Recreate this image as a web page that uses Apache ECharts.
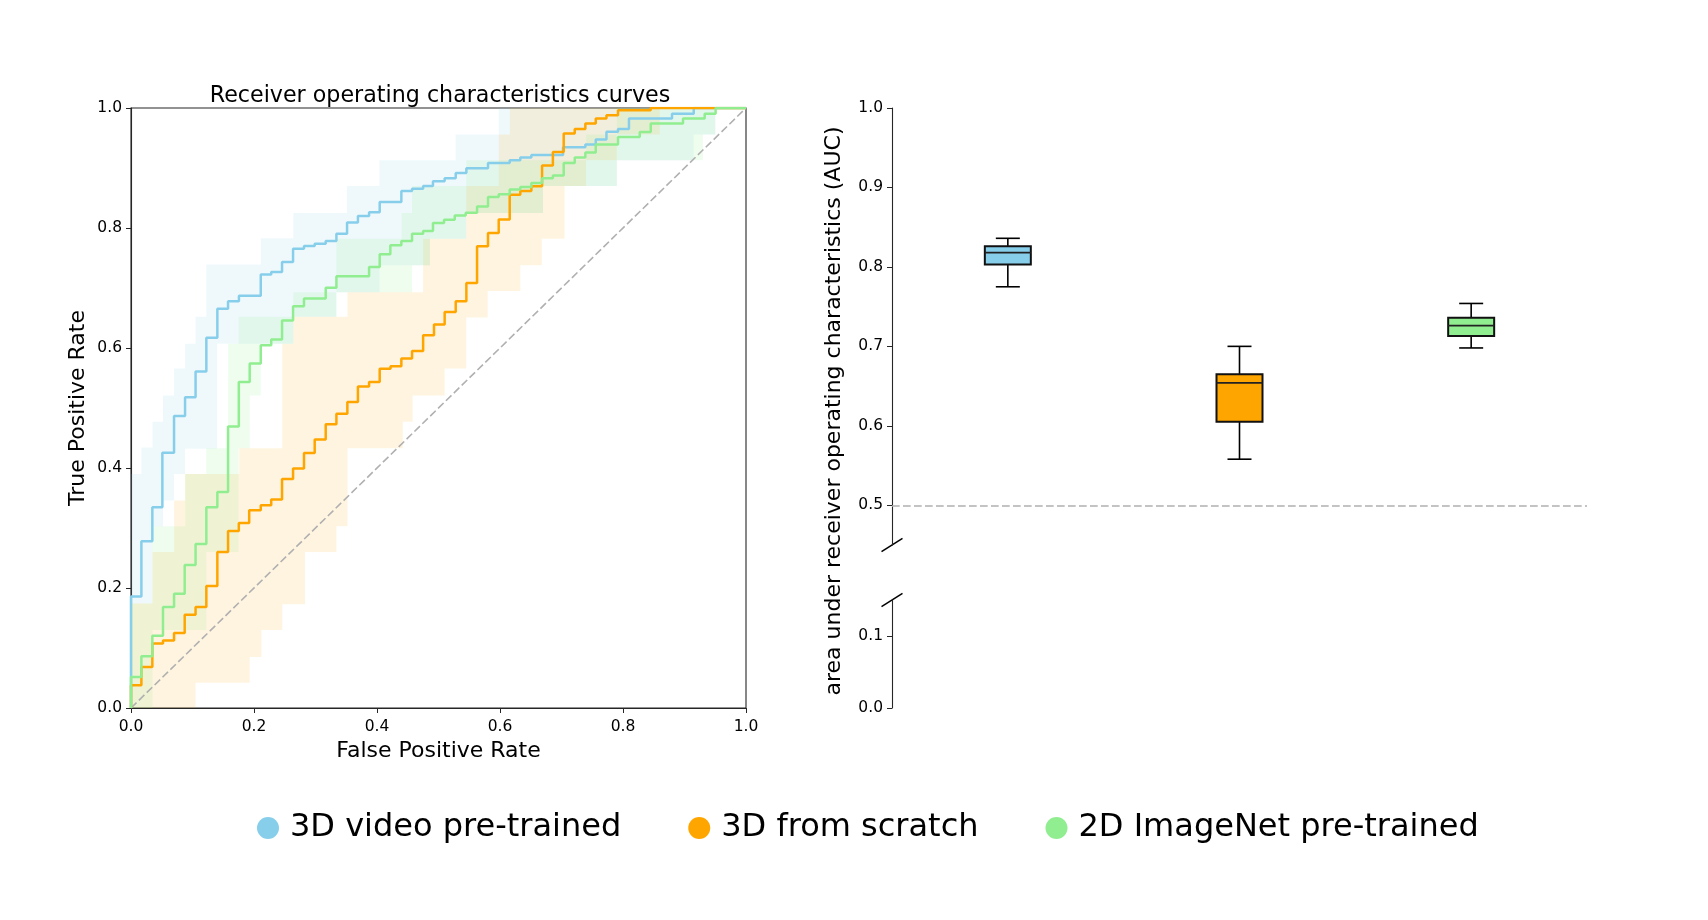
<!DOCTYPE html>
<html><head><meta charset="utf-8">
<script src="https://cdn.jsdelivr.net/npm/echarts@6/dist/echarts.min.js"></script>
<style>html,body{margin:0;padding:0;background:#fff}#c{width:1708px;height:920px}</style>
</head><body><div id="c"></div>
<script>
// ---------- data ----------
const seriesNames = ['3D video pre-trained', '3D from scratch', '2D ImageNet pre-trained'];
const seriesColors = ['#87CEEB', '#FFA500', '#90EE90'];
const bandColors = ['rgba(135,206,235,0.13)', 'rgba(255,165,0,0.12)', 'rgba(144,238,144,0.14)'];

// ROC step curves (fpr where the step starts, tpr held from there)
const blueFpr = [0,0,0.0169,0.0347,0.051,0.070,0.0879,0.105,0.1225,0.1404,0.1578,0.1755,0.211,0.228,0.2456,0.2635,0.2813,0.2987,0.3166,0.334,0.3513,0.369,0.3871,0.4044,0.4396,0.457,0.475,0.491,0.510,0.528,0.5453,0.5805,0.6158,0.633,0.651,0.7025,0.7388,0.7557,0.7731,0.7919,0.8097,0.8797,0.915,1.0];
const blueTpr = [0,0.186,0.278,0.3345,0.4256,0.4867,0.518,0.561,0.617,0.6656,0.678,0.687,0.7223,0.7267,0.7434,0.7656,0.770,0.7739,0.7783,0.7906,0.809,0.8202,0.8262,0.8434,0.8617,0.8656,0.870,0.878,0.883,0.8917,0.8995,0.9084,0.9128,0.9173,0.9217,0.9345,0.939,0.9473,0.9606,0.965,0.9823,0.9906,1.0,1.0];

const orangeFpr = [0,0,0.0169,0.0347,0.052,0.070,0.0873,0.105,0.1225,0.1404,0.1578,0.1753,0.1922,0.211,0.228,0.2456,0.2635,0.2813,0.2987,0.3166,0.334,0.3518,0.369,0.3871,0.4044,0.422,0.4396,0.457,0.475,0.4927,0.510,0.528,0.5453,0.5627,0.5805,0.5979,0.6158,0.633,0.651,0.6684,0.686,0.7036,0.7215,0.7388,0.7557,0.7731,0.7919,0.845,1.0];
const orangeTpr = [0,0.0378,0.0684,0.1073,0.1123,0.125,0.1556,0.1684,0.2034,0.26,0.295,0.3084,0.3295,0.3378,0.3473,0.3817,0.399,0.425,0.4473,0.4728,0.4906,0.510,0.536,0.5434,0.5656,0.5695,0.5823,0.595,0.6212,0.639,0.66,0.6778,0.7084,0.7695,0.7917,0.814,0.8556,0.8617,0.8695,0.904,0.9267,0.9573,0.965,0.974,0.9823,0.9878,0.9962,1.0,1.0];

const greenFpr = [0,0,0.0169,0.0347,0.052,0.070,0.0873,0.105,0.1225,0.1404,0.1578,0.1753,0.193,0.211,0.228,0.2456,0.2635,0.2813,0.3166,0.334,0.3871,0.4044,0.4217,0.4396,0.457,0.475,0.491,0.509,0.5264,0.5442,0.5627,0.5805,0.5979,0.6158,0.633,0.651,0.6684,0.686,0.7036,0.7215,0.7388,0.7557,0.7919,0.8272,0.8451,0.8976,0.9328,0.9506,1.0];
const greenTpr = [0,0.0517,0.0862,0.1206,0.1684,0.1906,0.2384,0.2734,0.3345,0.36,0.469,0.5434,0.574,0.6045,0.614,0.646,0.6695,0.6823,0.7006,0.7195,0.735,0.7562,0.7712,0.7783,0.7906,0.795,0.8084,0.8139,0.821,0.8256,0.836,0.8517,0.8562,0.864,0.8684,0.875,0.8828,0.8873,0.9084,0.9173,0.926,0.939,0.9517,0.96,0.974,0.9823,0.9906,1.0,1.0];

// Confidence bands (segment start fpr, lower / upper tpr on that segment)
const blueBandX  = [0,0.017,0.035,0.052,0.070,0.088,0.105,0.1225,0.140,0.158,0.211,0.264,0.334,0.351,0.404,0.486,0.528,0.545,0.598,0.67,0.79,0.915,0.95,1.0];
const blueBandLo = [0.174,0.174,0.303,0.346,0.39,0.432,0.432,0.432,0.607,0.607,0.607,0.652,0.693,0.693,0.738,0.782,0.782,0.825,0.825,0.87,0.913,0.956,1,1];
const blueBandHi = [0.39,0.434,0.477,0.521,0.566,0.607,0.652,0.739,0.739,0.739,0.783,0.825,0.825,0.87,0.913,0.913,0.956,0.956,1,1,1,1,1,1];

const orangeBandX  = [0,0.035,0.07,0.088,0.105,0.176,0.193,0.212,0.246,0.264,0.283,0.334,0.352,0.442,0.458,0.475,0.51,0.545,0.58,0.598,0.616,0.633,0.668,0.705,0.74,0.79,0.86,1.0];
const orangeBandLo = [0,0,0,0,0.042,0.042,0.085,0.13,0.173,0.173,0.26,0.303,0.433,0.477,0.521,0.521,0.566,0.651,0.695,0.695,0.695,0.738,0.782,0.87,0.913,0.956,1,1];
const orangeBandHi = [0.174,0.26,0.346,0.39,0.39,0.433,0.433,0.433,0.607,0.652,0.652,0.652,0.693,0.693,0.693,0.782,0.782,0.87,0.87,0.956,1,1,1,1,1,1,1,1];

const greenBandX  = [0,0.035,0.088,0.1225,0.158,0.175,0.193,0.211,0.264,0.334,0.44,0.457,0.486,0.545,0.67,0.74,0.79,0.93,0.95,1.0];
const greenBandLo = [0,0.13,0.13,0.26,0.26,0.433,0.521,0.607,0.652,0.693,0.693,0.738,0.782,0.825,0.87,0.87,0.913,0.956,1,1];
const greenBandHi = [0.174,0.303,0.39,0.433,0.607,0.652,0.652,0.652,0.693,0.782,0.825,0.87,0.87,0.913,0.913,0.956,1,1,1,1];

const rocTicks = [0, 0.2, 0.4, 0.6, 0.8, 1.0];
const chanceLine = [[0, 0], [1, 1]];

// AUC box plot (one entry per model)
const aucMin    = [0.775, 0.558, 0.698];
const aucQ1     = [0.803, 0.605, 0.713];
const aucMedian = [0.818, 0.654, 0.726];
const aucQ3     = [0.826, 0.665, 0.736];
const aucMax    = [0.836, 0.700, 0.754];
const aucUpperTicks = [0.5, 0.6, 0.7, 0.8, 0.9, 1.0];
const aucLowerTicks = [0.0, 0.1];
const chanceAUC = 0.5;

// ---------- chart ----------
const FONT = 'DejaVu Sans';
const GL = {left: 131, top: 108, width: 615, height: 600};
const GU = {left: 892, top: 108, width: 695, height: 437};
const GD = {left: 892, top: 600, width: 695, height: 108};
const SPINE = '#262626';
const GREY = '#b0b0b0';
const DASH = [7.7, 3.3];

const pairs = (xs, ys) => xs.map((x, i) => [x, ys[i]]);

function bandSeries(xs, lo, hi, color) {
  return {
    type: 'custom', xAxisIndex: 0, yAxisIndex: 0, z: 1, silent: true,
    data: [[0, 0]],
    renderItem: function (params, api) {
      const pts = [];
      for (let i = 0; i < xs.length - 1; i++) {
        pts.push(api.coord([xs[i], hi[i]]));
        pts.push(api.coord([xs[i + 1], hi[i]]));
      }
      for (let i = xs.length - 2; i >= 0; i--) {
        pts.push(api.coord([xs[i + 1], lo[i]]));
        pts.push(api.coord([xs[i], lo[i]]));
      }
      return {type: 'polygon', shape: {points: pts}, style: {fill: color}};
    }
  };
}

function rocLine(name, xs, ys, color) {
  return {
    type: 'line', name: name, xAxisIndex: 0, yAxisIndex: 0, z: 4,
    data: pairs(xs, ys), step: 'end', symbol: 'none', showSymbol: false,
    lineStyle: {color: color, width: 2.5}, itemStyle: {color: color}
  };
}

const boxData = aucMin.map((v, i) => [i, aucMin[i], aucQ1[i], aucMedian[i], aucQ3[i], aucMax[i]]);

const tickFont = {fontFamily: FONT, fontSize: 15.5, color: '#000'};

const option = {
  animation: false,
  backgroundColor: '#fff',
  title: {
    text: 'Receiver operating characteristics curves',
    left: 435, top: 80, textAlign: 'center',
    textStyle: {fontFamily: FONT, fontSize: 22.2, fontWeight: 'normal', color: '#000'}
  },
  legend: {
    data: seriesNames, left: 252, top: 807, icon: 'circle',
    itemWidth: 22, itemHeight: 22, itemGap: 67,
    textStyle: {fontFamily: FONT, fontSize: 32, color: '#000', padding: [0, 0, 0, 6]}
  },
  grid: [
    Object.assign({show: true, borderColor: SPINE, borderWidth: 1.1}, GL),
    GU, GD
  ],
  xAxis: [
    {gridIndex: 0, type: 'value', min: 0, max: 1, interval: 0.2,
     name: 'False Positive Rate', nameLocation: 'middle', nameGap: 31,
     nameTextStyle: {fontFamily: FONT, fontSize: 22, color: '#000'},
     axisLine: {show: true, onZero: false, lineStyle: {color: SPINE, width: 1.1}},
     axisTick: {show: true, length: 5, lineStyle: {color: SPINE}},
     axisLabel: Object.assign({margin: 11, showMinLabel: true, showMaxLabel: true, formatter: v => v.toFixed(1)}, tickFont),
     splitLine: {show: false}},
    {gridIndex: 1, type: 'category', data: seriesNames, show: false},
    {gridIndex: 2, type: 'category', data: seriesNames, show: false}
  ],
  yAxis: [
    {gridIndex: 0, type: 'value', min: 0, max: 1, interval: 0.2,
     name: 'True Positive Rate', nameLocation: 'middle', nameGap: 42,
     nameTextStyle: {fontFamily: FONT, fontSize: 22, color: '#000'},
     axisLine: {show: true, onZero: false, lineStyle: {color: SPINE, width: 1.1}},
     axisTick: {show: true, length: 5, lineStyle: {color: SPINE}},
     axisLabel: Object.assign({margin: 9, showMinLabel: true, showMaxLabel: true, formatter: v => v.toFixed(1)}, tickFont),
     splitLine: {show: false}},
    {gridIndex: 1, type: 'value', min: 0.45, max: 1.0,
     axisLine: {show: true, onZero: false, lineStyle: {color: SPINE, width: 1.1}},
     axisTick: {show: true, length: 5, customValues: aucUpperTicks, lineStyle: {color: SPINE}},
     axisLabel: Object.assign({margin: 9, customValues: aucUpperTicks, formatter: v => v.toFixed(1)}, tickFont),
     splitLine: {show: false}},
    {gridIndex: 2, type: 'value', min: 0, max: 0.15,
     axisLine: {show: true, onZero: false, lineStyle: {color: SPINE, width: 1.1}},
     axisTick: {show: true, length: 5, customValues: aucLowerTicks, lineStyle: {color: SPINE}},
     axisLabel: Object.assign({margin: 9, customValues: aucLowerTicks, formatter: v => v.toFixed(1)}, tickFont),
     splitLine: {show: false}}
  ],
  series: [
    bandSeries(blueBandX, blueBandLo, blueBandHi, bandColors[0]),
    bandSeries(orangeBandX, orangeBandLo, orangeBandHi, bandColors[1]),
    bandSeries(greenBandX, greenBandLo, greenBandHi, bandColors[2]),
    {type: 'line', xAxisIndex: 0, yAxisIndex: 0, z: 2, silent: true, data: chanceLine,
     symbol: 'none', lineStyle: {color: GREY, width: 1.6, type: DASH}},
    rocLine(seriesNames[0], blueFpr, blueTpr, seriesColors[0]),
    rocLine(seriesNames[1], orangeFpr, orangeTpr, seriesColors[1]),
    rocLine(seriesNames[2], greenFpr, greenTpr, seriesColors[2]),
    {
      type: 'custom', xAxisIndex: 1, yAxisIndex: 1, z: 5,
      data: boxData,
      renderItem: function (params, api) {
        const i = api.value(0);
        const p = v => api.coord([i, v]);
        const pMin = p(api.value(1)), pQ1 = p(api.value(2)), pMed = p(api.value(3)),
              pQ3 = p(api.value(4)), pMax = p(api.value(5));
        const cx = pMed[0], hw = 23, cw = 12;
        const stroke = {stroke: '#000', lineWidth: 1.6};
        return {type: 'group', children: [
          {type: 'line', shape: {x1: cx, y1: pMax[1], x2: cx, y2: pQ3[1]}, style: stroke},
          {type: 'line', shape: {x1: cx, y1: pQ1[1], x2: cx, y2: pMin[1]}, style: stroke},
          {type: 'line', shape: {x1: cx - cw, y1: pMax[1], x2: cx + cw, y2: pMax[1]}, style: stroke},
          {type: 'line', shape: {x1: cx - cw, y1: pMin[1], x2: cx + cw, y2: pMin[1]}, style: stroke},
          {type: 'rect', shape: {x: cx - hw, y: pQ3[1], width: 2 * hw, height: pQ1[1] - pQ3[1]},
           style: {fill: seriesColors[params.dataIndex], stroke: '#111', lineWidth: 2}},
          {type: 'line', shape: {x1: cx - hw, y1: pMed[1], x2: cx + hw, y2: pMed[1]}, style: {stroke: '#222', lineWidth: 1.8}}
        ]};
      },
      markLine: {silent: true, symbol: 'none', label: {show: false},
        lineStyle: {color: GREY, width: 1.6, type: DASH},
        data: [{yAxis: chanceAUC}]}
    }
  ],
  graphic: [
    {type: 'text', x: 834, y: 411, rotation: Math.PI / 2,
     style: {text: 'area under receiver operating characteristics (AUC)', font: '22px "DejaVu Sans"',
             fill: '#000', textAlign: 'center', textVerticalAlign: 'middle'}},
    {type: 'line', shape: {x1: GU.left - 10.5, y1: GU.top + GU.height + 6.7, x2: GU.left + 10.5, y2: GU.top + GU.height - 6.7},
     style: {stroke: '#000', lineWidth: 1.5}},
    {type: 'line', shape: {x1: GD.left - 10.5, y1: GD.top + 6.7, x2: GD.left + 10.5, y2: GD.top - 6.7},
     style: {stroke: '#000', lineWidth: 1.5}}
  ]
};

const chart = echarts.init(document.getElementById('c'), null, {renderer: 'canvas'});
chart.setOption(option);
</script>
</body></html>
